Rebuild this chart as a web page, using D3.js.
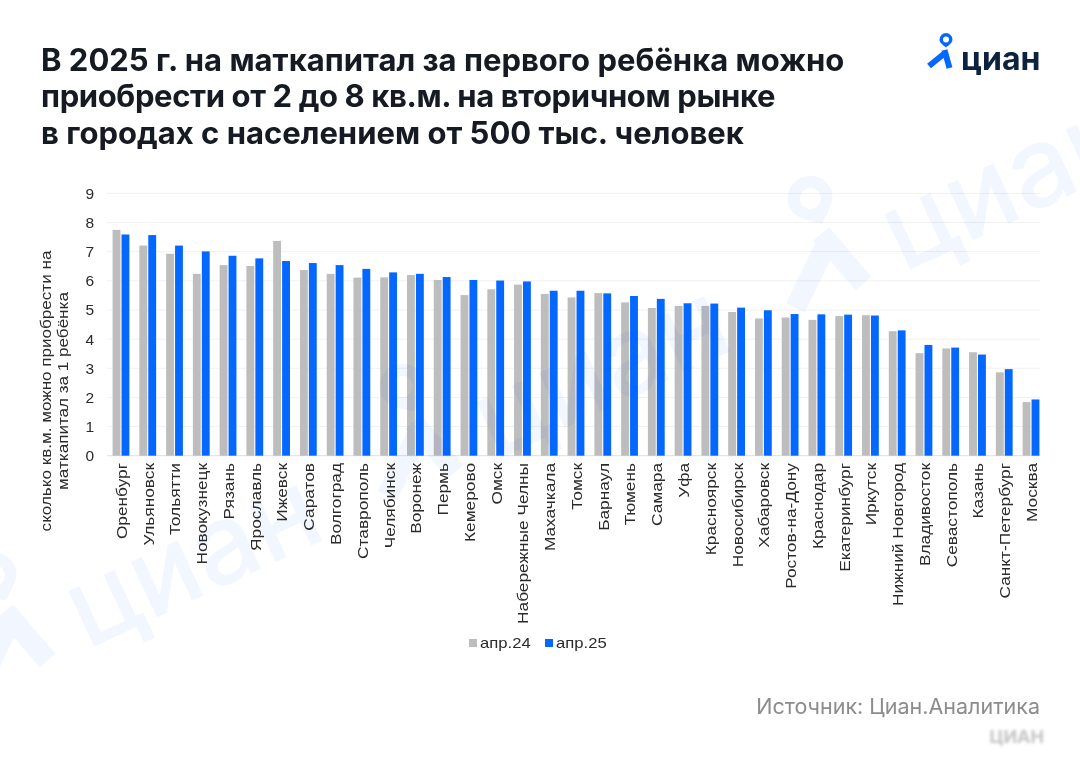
<!DOCTYPE html>
<html lang="ru">
<head>
<meta charset="utf-8">
<title>Маткапитал</title>
<script src="https://d3js.org/d3.v7.min.js"></script>
<style>
body { margin: 0; background: #fff; }
svg { display: block; }
text { font-family: "Liberation Sans", Arial, sans-serif; }
.title { font-family: Inter, sans-serif; font-weight: 700; font-size: 31px; fill: #161a22; }
.axis text { font-size: 15.5px; fill: #2b2b2b; }
.axis-x text { font-size: 14px; fill: #2b2b2b; }
.grid line { stroke: #f1f1f1; }
.watermark { mix-blend-mode: multiply; }
</style>
</head>
<body>
<svg id="chart" width="1080" height="758"></svg>
<script>
var cities = ["Оренбург", "Ульяновск", "Тольятти", "Новокузнецк", "Рязань", "Ярославль", "Ижевск",
    "Саратов", "Волгоград", "Ставрополь", "Челябинск", "Воронеж", "Пермь", "Кемерово", "Омск",
    "Набережные Челны", "Махачкала", "Томск", "Барнаул", "Тюмень", "Самара", "Уфа", "Красноярск",
    "Новосибирск", "Хабаровск", "Ростов-на-Дону", "Краснодар", "Екатеринбург", "Иркутск",
    "Нижний Новгород", "Владивосток", "Севастополь", "Казань", "Санкт-Петербург", "Москва"];
var apr24 = [7.75, 7.21, 6.93, 6.24, 6.54, 6.51, 7.37, 6.37, 6.24, 6.11, 6.12, 6.2, 6.03, 5.51, 5.71,
    5.87, 5.55, 5.43, 5.58, 5.26, 5.07, 5.14, 5.14, 4.93, 4.71, 4.74, 4.66, 4.79, 4.82,
    4.27, 3.52, 3.68, 3.55, 2.86, 1.84];
var apr25 = [7.59, 7.57, 7.21, 7.01, 6.86, 6.77, 6.68, 6.61, 6.54, 6.41, 6.29, 6.24, 6.13, 6.03, 6.01,
    5.98, 5.66, 5.66, 5.57, 5.48, 5.38, 5.23, 5.22, 5.08, 4.99, 4.86, 4.85, 4.84, 4.81,
    4.30, 3.80, 3.71, 3.47, 2.97, 1.93];
var seriesNames = ["апр.24", "апр.25"];
var seriesColors = ["#bdbdbd", "#0468ff"];
var yTicks = [0, 1, 2, 3, 4, 5, 6, 7, 8, 9];
var titleLines = ["В 2025 г. на маткапитал за первого ребёнка можно",
    "приобрести от 2 до 8 кв.м. на вторичном рынке",
    "в городах с населением от 500 тыс. человек"];
var yTitleLines = ["сколько кв.м. можно приобрести на", "маткапитал за 1 ребёнка"];

var svg = d3.select("#chart");

var x = d3.scaleBand().domain(cities).range([107.6, 1044.4]);
var inner = d3.scaleBand().domain([0, 1]).range([x.bandwidth() / 2 - 8.4, x.bandwidth() / 2 + 8.4]).paddingInner(0.12);
var y = d3.scaleLinear().domain([0, 9]).range([455.7, 193.4]);

// logo: origin is the baseline start of the word, k scales it
function drawLogo(g, k, pinColor, textColor, weight) {
    g.append("path")
        .attr("fill-rule", "evenodd")
        .attr("fill", pinColor)
        .attr("d", "M-21.5,-30.5a6.5,6.5 0 1,1 13,0c0,3.4 -3.6,5.6 -6.5,8c-2.9,-2.4 -6.5,-4.6 -6.5,-8z" +
            "M-18,-30.5a3,3 0 1,0 6,0a3,3 0 1,0 -6,0z")
        .attr("transform", "scale(" + k + ")");
    g.append("path")
        .attr("fill", "none")
        .attr("stroke", pinColor)
        .attr("stroke-width", 6)
        .attr("d", "M-32,-4L-16,-17M-16.5,-20L-11.5,-2")
        .attr("transform", "scale(" + k + ")");
    g.append("text")
        .attr("font-size", 32 * k)
        .attr("font-weight", weight)
        .attr("fill", textColor)
        .style("font-family", "Inter, sans-serif")
        .text("циан");
}

// grid and y axis
svg.append("g").attr("class", "grid")
    .selectAll("line").data(yTicks).join("line")
    .attr("x1", 107).attr("x2", 1040)
    .attr("y1", function(d) { return y(d); })
    .attr("y2", function(d) { return y(d); })
    .style("stroke", function(d) { return d == 0 ? "#dedede" : null; });

var yAxis = svg.append("g").attr("class", "axis")
    .attr("transform", "translate(94,0)")
    .call(d3.axisLeft(y).tickValues(yTicks).tickSize(0).tickPadding(0).tickFormat(d3.format("d")));
yAxis.select(".domain").remove();

// bars
var groups = svg.append("g").selectAll("g").data(cities).join("g")
    .attr("transform", function(d) { return "translate(" + x(d) + ",0)"; });
[apr24, apr25].forEach(function(values, s) {
    groups.append("rect")
        .attr("x", inner(s))
        .attr("width", inner.bandwidth())
        .attr("y", function(d, i) { return y(values[i]); })
        .attr("height", function(d, i) { return y(0) - y(values[i]); })
        .attr("fill", seriesColors[s]);
});

// x axis labels, the source stretches them along their length
var xAxis = svg.append("g").attr("class", "axis-x")
    .attr("transform", "translate(1,463)")
    .call(d3.axisBottom(x).tickSize(0).tickPadding(0));
xAxis.select(".domain").remove();
xAxis.selectAll("text")
    .attr("transform", "rotate(-90) scale(1.235,1)")
    .attr("x", 0).attr("y", 0).attr("dy", "0.35em")
    .attr("text-anchor", "end");

// watermarks
[[87, 650], [495, 461], [903, 273]].forEach(function(p) {
    var w = svg.append("g").attr("class", "watermark")
        .attr("transform", "translate(" + p[0] + "," + p[1] + ") rotate(-25)");
    drawLogo(w, 3.5, "#f2f7ff", "#f2f7ff", 500);
});

// y title
yTitleLines.forEach(function(line, i) {
    svg.append("text")
        .attr("transform", "translate(" + (51 + i * 17) + ",391) rotate(-90) scale(1.22,1)")
        .attr("text-anchor", "middle")
        .attr("font-size", 14)
        .attr("fill", "#2b2b2b")
        .text(line);
});

// title, the middle line runs tighter in the source
svg.selectAll(".title").data(titleLines).join("text")
    .attr("class", "title")
    .attr("x", 41)
    .attr("y", function(d, i) { return 70.5 + i * 36.5; })
    .style("letter-spacing", function(d, i) { return i == 1 ? "-0.38px" : null; })
    .text(function(d) { return d; });

drawLogo(svg.append("g").attr("transform", "translate(961,70)"), 1, "#0468ff", "#0c2340", 700);

// legend
var legendX = [469, 545];
seriesNames.forEach(function(name, i) {
    svg.append("rect").attr("x", legendX[i]).attr("y", 639).attr("width", 8).attr("height", 8).attr("fill", seriesColors[i]);
    svg.append("text")
        .attr("transform", "translate(" + (legendX[i] + 11) + ",648) scale(1.19,1)")
        .attr("font-size", 14).attr("fill", "#2b2b2b").text(name);
});

// source
svg.append("text")
    .attr("x", 1040).attr("y", 714)
    .attr("text-anchor", "end")
    .attr("font-size", 21.5)
    .attr("fill", "#8c8c8c")
    .style("font-family", "Inter, sans-serif")
    .text("Источник: Циан.Аналитика");

var defs = svg.append("defs");
defs.append("filter").attr("id", "soft").append("feGaussianBlur").attr("stdDeviation", 1.6);
svg.append("text")
    .attr("x", 1044).attr("y", 743)
    .attr("text-anchor", "end")
    .attr("font-size", 18)
    .attr("font-weight", 700)
    .attr("fill", "#c4c4c4")
    .attr("filter", "url(#soft)")
    .style("font-family", "Inter, sans-serif")
    .text("ЦИАН");
</script>
</body>
</html>
